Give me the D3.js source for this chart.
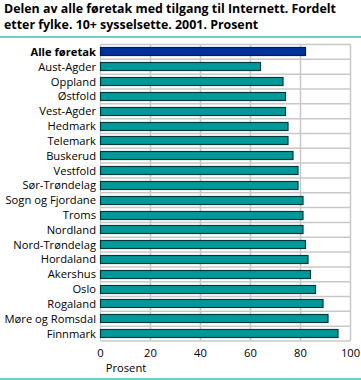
<!DOCTYPE html>
<html>
<head>
<meta charset="utf-8">
<script src="https://cdn.jsdelivr.net/npm/d3@7"></script>
<style>
  body { margin: 0; background: #fff; }
  text { font-family: "Open Sans", "DejaVu Sans", sans-serif; }
</style>
</head>
<body>
<svg id="chart" width="361" height="380"></svg>
<script>
var fylker = ["Alle føretak", "Aust-Agder", "Oppland", "Østfold", "Vest-Agder", "Hedmark",
  "Telemark", "Buskerud", "Vestfold", "Sør-Trøndelag", "Sogn og Fjordane", "Troms",
  "Nordland", "Nord-Trøndelag", "Hordaland", "Akershus", "Oslo", "Rogaland",
  "Møre og Romsdal", "Finnmark"];
var prosent = [82, 64, 73, 74, 74, 75, 75, 77, 79, 79, 81, 81, 81, 82, 83, 84, 86, 89, 91, 95];
var xTicks = [0, 20, 40, 60, 80, 100];

var svg = d3.select("#chart");

var plotLeft = 100.5, plotRight = 350.5, plotTop = 44.5, plotBottom = 341;

var x = d3.scaleLinear().domain([0, 100]).range([plotLeft, plotRight]);
var y = d3.scaleBand().domain(fylker).range([plotTop, plotBottom]).paddingInner(0.4).paddingOuter(0.2);
var band = d3.scaleBand().domain(fylker).range([plotTop, plotBottom]);

// tittel
svg.append("text").attr("x", 4).attr("y", 13)
  .style("font-size", "12.4px").style("font-weight", "bold")
  .text("Delen av alle føretak med tilgang til Internett. Fordelt");
svg.append("text").attr("x", 4).attr("y", 28.5)
  .style("font-size", "12.4px").style("font-weight", "bold")
  .text("etter fylke. 10+ sysselsette. 2001. Prosent");

svg.append("rect").attr("x", 0).attr("y", 36).attr("width", 361).attr("height", 2).attr("fill", "#6fcfc6");
svg.append("rect").attr("x", 0).attr("y", 378).attr("width", 361).attr("height", 2).attr("fill", "#6fcfc6");

// rutenett
svg.append("g").selectAll("line").data(xTicks).enter().append("line")
  .attr("x1", function(d) { return x(d); }).attr("x2", function(d) { return x(d); })
  .attr("y1", plotTop).attr("y2", plotBottom)
  .attr("stroke", "#c8c8c8").attr("stroke-width", function(d) { return d == 0 ? 1 : 1.5; });

svg.append("g").selectAll("line").data(fylker).enter().append("line")
  .attr("x1", plotLeft).attr("x2", plotRight)
  .attr("y1", function(d) { return band(d); }).attr("y2", function(d) { return band(d); })
  .attr("stroke", "#c8c8c8").attr("stroke-width", 1.5);
svg.append("line").attr("x1", plotLeft).attr("x2", plotRight).attr("y1", plotBottom).attr("y2", plotBottom)
  .attr("stroke", "#c8c8c8").attr("stroke-width", 1.5);

// stolpar
svg.append("g").selectAll("rect").data(prosent).enter().append("rect")
  .attr("x", x(0))
  .attr("y", function(d, i) { return Math.round(y(fylker[i])) + 0.5; })
  .attr("width", function(d) { return x(d) - x(0); })
  .attr("height", 8)
  .attr("fill", function(d, i) { return i == 0 ? "#003399" : "#009999"; })
  .attr("stroke", function(d, i) { return i == 0 ? "#001a66" : "#003a3a"; })
  .attr("stroke-width", 1.2);

// kategorier
svg.append("g").selectAll("text").data(fylker).enter().append("text")
  .attr("x", 96)
  .attr("y", function(d) { return band(d) + band.bandwidth() / 2 + 4; })
  .attr("text-anchor", "end")
  .style("font-size", "11.2px")
  .style("font-weight", function(d, i) { return i == 0 ? "bold" : "normal"; })
  .text(function(d) { return d; });

// x-akse
svg.append("g").selectAll("text").data(xTicks).enter().append("text")
  .attr("x", function(d) { return x(d); })
  .attr("y", 357)
  .attr("text-anchor", "middle")
  .style("font-size", "11.2px")
  .text(function(d) { return d; });

svg.append("text").attr("x", 126).attr("y", 372).attr("text-anchor", "middle")
  .style("font-size", "11.2px").text("Prosent");
</script>
</body>
</html>
